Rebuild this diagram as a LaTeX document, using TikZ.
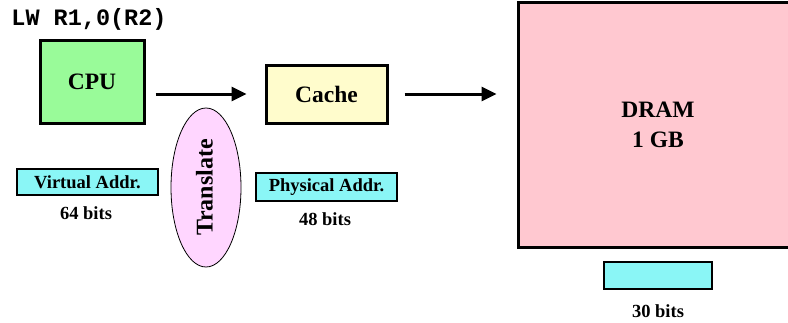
\documentclass[tikz,border=0pt]{standalone}
\usepackage{fontspec}
\setmainfont{Liberation Serif}
\setmonofont{Liberation Mono}
\usetikzlibrary{arrows.meta,shapes.geometric}

\definecolor{cpugreen}{RGB}{153,251,153}
\definecolor{cacheyellow}{RGB}{255,252,204}
\definecolor{drampink}{RGB}{255,200,208}
\definecolor{addrcyan}{RGB}{138,246,246}
\definecolor{xlatepink}{RGB}{255,214,255}

\tikzset{
  unit/.style={draw=black, line width=3pt, inner sep=0pt,
               font=\fontsize{23.5}{26}\selectfont\bfseries, align=center},
  addrbox/.style={draw=black, line width=1.8pt, fill=addrcyan, inner sep=0pt,
                  font=\fontsize{18.5}{20}\selectfont\bfseries},
  bitlabel/.style={inner sep=0pt, font=\fontsize{18.5}{20}\selectfont\bfseries},
  flow/.style={line width=3pt, -{Triangle[length=15pt,width=14pt]}}
}

\begin{document}
\begin{tikzpicture}[x=1pt,y=-1pt]
  \clip (0,0) rectangle (788,322);

  % instruction being executed
  \node[inner sep=0pt, font=\fontsize{23.5}{26}\selectfont\ttfamily\bfseries]
    (instr) at (89,19) {LW R1,0(R2)};

  % processor, cache and main memory
  \node[unit, fill=cpugreen, minimum width=104pt, minimum height=83pt]
    (cpu) at (92,81.5) {CPU};
  \node[unit, fill=cacheyellow, minimum width=121pt, minimum height=58pt]
    (cache) at (326.5,94) {Cache};
  \node[unit, fill=drampink, minimum width=290pt, minimum height=245pt]
    (dram) at (663,124.5) {};
  \node[inner sep=0pt, font=\fontsize{23.5}{30}\selectfont\bfseries, align=center]
    (dramlabel) at (658,125) {DRAM\\1 GB};

  % address translation
  \node[ellipse, draw=black, line width=0.8pt, fill=xlatepink, inner sep=0pt,
        minimum width=70pt, minimum height=159pt]
    (xlate) at (206,187.5) {};
  \node[rotate=90, inner sep=0pt, font=\fontsize{24}{26}\selectfont\bfseries]
    (xlatelabel) at (204.5,187.5) {Translate};

  % address widths
  \node[addrbox, minimum width=141pt, minimum height=26pt]
    (vaddr) at (87.5,182) {Virtual Addr.};
  \node[bitlabel] (vbits) at (86,213) {64 bits};
  \node[addrbox, minimum width=141pt, minimum height=28pt]
    (paddr) at (326.5,187) {Physical Addr.};
  \node[bitlabel] (pbits) at (325,219) {48 bits};
  \node[addrbox, minimum width=108pt, minimum height=27pt]
    (daddr) at (658,275.5) {};
  \node[bitlabel] (dbits) at (658,311) {30 bits};

  % data path
  \draw[flow] ([xshift=10pt]cpu.east |- cache.west) -- ([xshift=-18pt]cache.west);
  \draw[flow] ([xshift=16pt]cache.east) -- ([xshift=-20pt]dram.west |- cache.east);
\end{tikzpicture}
\end{document}
